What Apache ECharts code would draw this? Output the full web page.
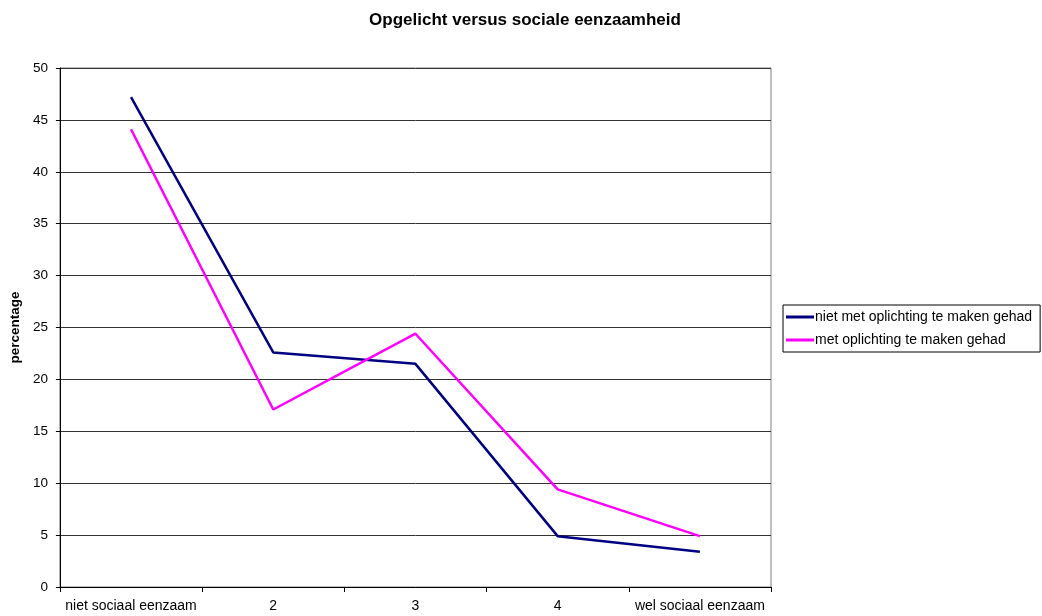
<!DOCTYPE html>
<html>
<head>
<meta charset="utf-8">
<script src="https://cdn.jsdelivr.net/npm/echarts@6/dist/echarts.min.js"></script>
<style>
  html, body { margin: 0; padding: 0; background: #fff; }
  #chart { width: 1042px; height: 616px; }
</style>
</head>
<body>
<div id="chart"></div>
<script>
// Categories on the eenzaamheid scale
const categories = ['niet sociaal eenzaam', '2', '3', '4', 'wel sociaal eenzaam'];
// Percentages per group
const nietOpgelicht = [47.2, 22.6, 21.5, 4.9, 3.4];
const welOpgelicht = [44.1, 17.1, 24.4, 9.4, 4.9];
const seriesNames = ['niet met oplichting te maken gehad', 'met oplichting te maken gehad'];

const chart = echarts.init(document.getElementById('chart'));
const font = 'Liberation Sans, Arial, sans-serif';

chart.setOption({
  animation: false,
  backgroundColor: '#fff',
  title: {
    text: 'Opgelicht versus sociale eenzaamheid',
    left: 520, top: 7, textAlign: 'center',
    textStyle: { fontFamily: font, fontSize: 17, fontWeight: 'bold', color: '#000' }
  },
  grid: {
    left: 58, right: 271, top: 68, bottom: 29,
    show: true, borderColor: '#808080', borderWidth: 1, backgroundColor: '#fff'
  },
  legend: {
    orient: 'vertical',
    left: 783, top: 305,
    padding: [5, 8, 5, 3],
    itemGap: 9,
    itemWidth: 28, itemHeight: 3,
    icon: 'rect',
    borderColor: '#000', borderWidth: 1,
    backgroundColor: '#fff',
    textStyle: { fontFamily: font, fontSize: 14, color: '#000', padding: [0, 0, 0, -4] },
    data: seriesNames
  },
  xAxis: {
    type: 'category',
    data: categories,
    boundaryGap: true,
    axisLine: { lineStyle: { color: '#000', width: 1 } },
    axisTick: { show: true, length: 5, lineStyle: { color: '#000' } },
    axisLabel: { fontFamily: font, fontSize: 14, color: '#000', margin: 12, interval: 0 },
    splitLine: { show: false }
  },
  yAxis: {
    type: 'value',
    min: 0, max: 50, interval: 5,
    name: 'percentage',
    nameLocation: 'middle',
    nameGap: 32,
    nameTextStyle: { fontFamily: font, fontSize: 13.5, fontWeight: 'bold', color: '#000' },
    axisLine: { show: true, lineStyle: { color: '#000', width: 1 } },
    axisTick: { show: true, length: 4, lineStyle: { color: '#000' } },
    axisLabel: { fontFamily: font, fontSize: 13.5, color: '#000', margin: 12 },
    splitLine: { show: true, lineStyle: { color: '#333', width: 1 } }
  },
  series: [
    {
      name: seriesNames[0], type: 'line', data: nietOpgelicht,
      symbol: 'none', color: '#000080',
      lineStyle: { color: '#000080', width: 2.5 }
    },
    {
      name: seriesNames[1], type: 'line', data: welOpgelicht,
      symbol: 'none', color: '#ff00ff',
      lineStyle: { color: '#ff00ff', width: 2.5 }
    }
  ]
});
</script>
</body>
</html>
